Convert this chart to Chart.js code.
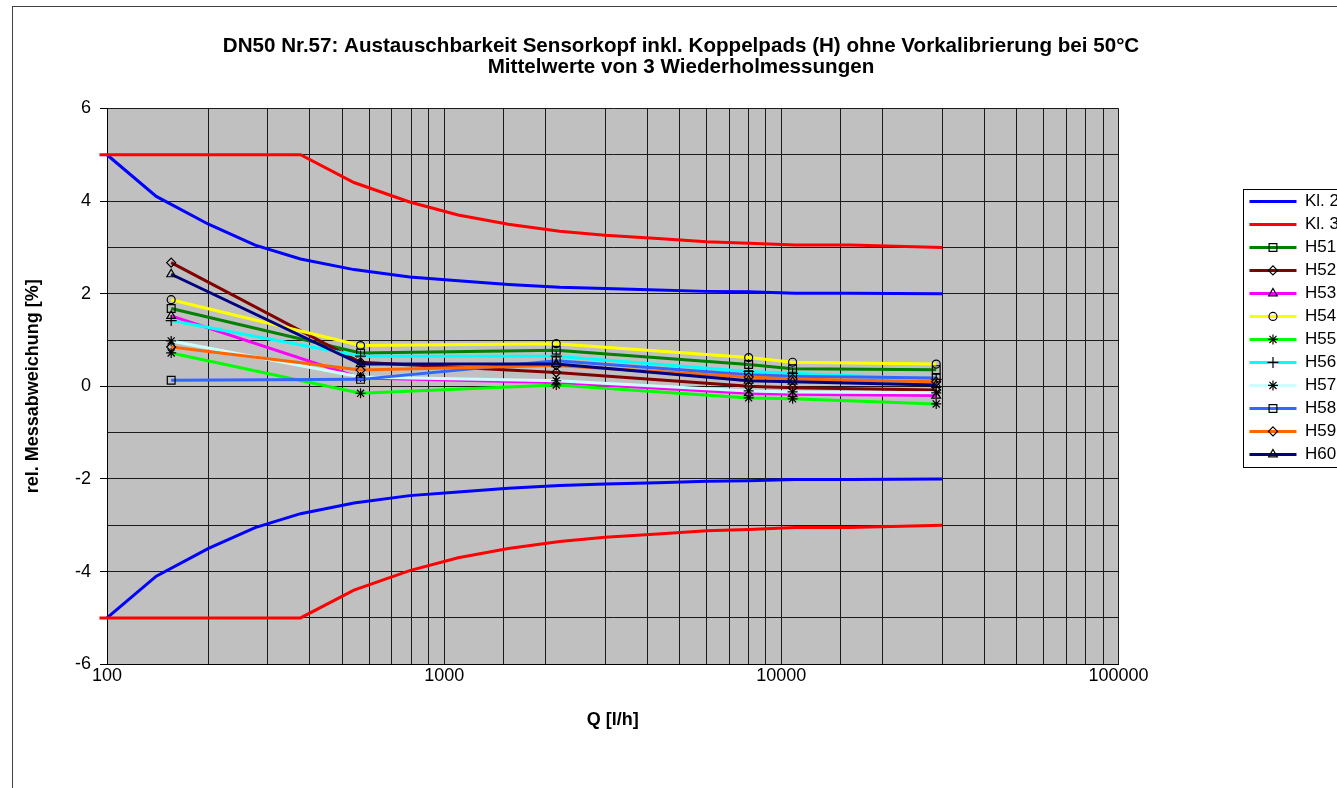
<!DOCTYPE html>
<html>
<head>
<meta charset="utf-8">
<script src="https://cdn.jsdelivr.net/npm/chart.js"></script>
<style>
  html, body { margin: 0; padding: 0; background: #fff; overflow: hidden; }
  #frame { position: absolute; left: 12px; top: 6px; width: 1336px; height: 800px; border: 1px solid #404040; }
  canvas { display: block; }
</style>
</head>
<body>
<div id="frame"><canvas id="chart" width="1336" height="782"></canvas></div>
<script>
// Fehlergrenzen (Klasse 2 / Klasse 3)
const qKl2 = [100, 140, 200, 275, 375, 540, 790, 1100, 1550, 2200, 3000, 4300, 6000, 8000, 11000, 16000, 30000];
const kl2Oben = [5, 4.1, 3.5, 3.05, 2.75, 2.52, 2.36, 2.28, 2.2, 2.14, 2.11, 2.08, 2.05, 2.04, 2.01, 2.01, 2.0];
const kl2Unten = [-5, -4.1, -3.5, -3.05, -2.75, -2.52, -2.36, -2.28, -2.2, -2.14, -2.11, -2.08, -2.05, -2.04, -2.01, -2.01, -2.0];
const qKl3 = [95, 140, 200, 275, 375, 540, 790, 1100, 1550, 2200, 3000, 4300, 6000, 8000, 11000, 16000, 30000];
const kl3Oben = [5, 5, 5, 5, 5, 4.4, 3.98, 3.7, 3.5, 3.35, 3.26, 3.19, 3.12, 3.09, 3.05, 3.05, 3.0];
const kl3Unten = [-5, -5, -5, -5, -5, -4.4, -3.98, -3.7, -3.5, -3.35, -3.26, -3.19, -3.12, -3.09, -3.05, -3.05, -3.0];

// Messpunkte (Mittelwerte)
const qMess = [155, 565, 2150, 8000, 10800, 28800];
const h51 = [1.68, 0.72, 0.78, 0.47, 0.38, 0.36];
const h52 = [2.67, 0.52, 0.3, 0.0, -0.03, -0.08];
const h53 = [1.52, 0.18, 0.08, -0.15, -0.17, -0.2];
const h54 = [1.87, 0.88, 0.92, 0.62, 0.52, 0.48];
const h55 = [0.72, -0.15, 0.03, -0.25, -0.27, -0.38];
const h56 = [1.42, 0.65, 0.65, 0.32, 0.28, 0.15];
const h57 = [0.98, 0.2, 0.12, -0.1, -0.12, -0.14];
const h58 = [0.13, 0.15, 0.55, 0.25, 0.22, 0.18];
const h59 = [0.85, 0.35, 0.45, 0.2, 0.16, 0.1];
const h60 = [2.42, 0.48, 0.48, 0.12, 0.1, 0.03];

const hNamen = ['H51', 'H52', 'H53', 'H54', 'H55', 'H56', 'H57', 'H58', 'H59', 'H60'];
const hWerte = [h51, h52, h53, h54, h55, h56, h57, h58, h59, h60];
const hFarben = ['#008000', '#800000', '#FF00FF', '#FFFF00', '#00FF00', '#00FFFF', '#CCFFFF', '#3366FF', '#FF6600', '#000080'];
const hMarker = ['rect', 'rectRot', 'triangle', 'circle', 'star', 'cross', 'star', 'rect', 'rectRot', 'triangle'];
const hRadius = [5.5, 4.5, 5, 4, 5, 5.5, 5, 5.5, 4.5, 5];

const xTicks = [100, 1000, 10000, 100000];

const titel = [
  'DN50 Nr.57: Austauschbarkeit Sensorkopf inkl. Koppelpads (H) ohne Vorkalibrierung bei 50°C',
  'Mittelwerte von 3 Wiederholmessungen'
];

Chart.defaults.font.family = "'Liberation Sans', Arial, sans-serif";
Chart.defaults.color = '#000';

function toPoints(qs, ys) {
  return qs.map((q, i) => ({ x: q, y: ys[i] }));
}

const limitSets = [
  { label: 'Kl. 2', q: qKl2, y: kl2Oben, color: '#0000FF' },
  { label: 'Kl. 3', q: qKl3, y: kl3Oben, color: '#FF0000' },
  { label: 'Kl. 2 unten', q: qKl2, y: kl2Unten, color: '#0000FF', noLegend: true },
  { label: 'Kl. 3 unten', q: qKl3, y: kl3Unten, color: '#FF0000', noLegend: true }
];

const datasets = [];
limitSets.forEach((l) => {
  datasets.push({
    label: l.label,
    data: toPoints(l.q, l.y),
    borderColor: l.color,
    backgroundColor: l.color,
    borderWidth: 3,
    pointRadius: 0,
    tension: 0,
    clip: false,
    noLegend: !!l.noLegend
  });
});
hNamen.forEach((name, i) => {
  datasets.push({
    label: name,
    data: toPoints(qMess, hWerte[i]),
    borderColor: hFarben[i],
    backgroundColor: hFarben[i],
    borderWidth: 3,
    tension: 0,
    pointStyle: hMarker[i],
    pointRadius: hRadius[i],
    pointBorderWidth: 1.2,
    pointBorderColor: '#000',
    pointBackgroundColor: 'rgba(0,0,0,0)'
  });
});
// later series on top, like the original
datasets.forEach((d, i) => { d.order = datasets.length - i; });

const plotBg = {
  id: 'plotBg',
  beforeDraw(chart) {
    const { ctx, chartArea: a } = chart;
    ctx.save();
    ctx.fillStyle = '#fff';
    ctx.fillRect(0, 0, chart.width, chart.height);
    ctx.fillStyle = '#C0C0C0';
    ctx.fillRect(a.left, a.top, a.right - a.left, a.bottom - a.top);
    ctx.restore();
  }
};

const legendFrame = {
  id: 'legendFrame',
  afterDraw(chart) {
    const lg = chart.legend;
    if (!lg || !lg.legendHitBoxes || !lg.legendHitBoxes.length) return;
    const boxes = lg.legendHitBoxes;
    const last = boxes[boxes.length - 1];
    const ctx = chart.ctx;
    const top = boxes[0].top - 4;
    const bottom = last.top + last.height + 4;
    ctx.save();
    ctx.strokeStyle = '#000';
    ctx.lineWidth = 1;
    ctx.strokeRect(Math.round(lg.left) + 0.5, Math.round(top) + 0.5, chart.width, Math.round(bottom - top));
    const bw = lg.options.labels.boxWidth;
    boxes.forEach((hb, i) => {
      const ds = chart.data.datasets[lg.legendItems[i].datasetIndex];
      if (!ds.pointRadius || !Chart.helpers || !Chart.helpers.drawPoint) return;
      ctx.strokeStyle = '#000';
      ctx.fillStyle = 'rgba(0,0,0,0)';
      ctx.lineWidth = ds.pointBorderWidth;
      Chart.helpers.drawPoint(ctx, {
        pointStyle: ds.pointStyle,
        radius: ds.pointRadius,
        borderWidth: ds.pointBorderWidth,
        rotation: 0
      }, hb.left + bw / 2, hb.top + hb.height / 2);
    });
    ctx.restore();
  }
};

const ctx = document.getElementById('chart').getContext('2d');
new Chart(ctx, {
  type: 'line',
  data: { datasets: datasets },
  options: {
    responsive: false,
    animation: false,
    devicePixelRatio: 1,
    layout: { padding: { left: 0, right: 0, top: 0, bottom: 58 } },
    plugins: {
      tooltip: { enabled: false },
      title: {
        display: true,
        text: titel,
        color: '#000',
        font: { size: 20.6, weight: 'bold', lineHeight: 1.03 },
        padding: { top: 28.5, bottom: 30.5 }
      },
      legend: {
        position: 'right',
        align: 'start',
        fullSize: false,
        title: { display: true, text: '', font: { size: 10, lineHeight: 1.2 }, padding: { top: 66.5, bottom: 0 } },
        labels: {
          boxWidth: 47,
          boxHeight: 3,
          padding: 6,
          color: '#000',
          font: { size: 17 },
          filter: (item, data) => !data.datasets[item.datasetIndex].noLegend,
          sort: (a, b) => a.datasetIndex - b.datasetIndex,
          generateLabels: (chart) =>
            Chart.defaults.plugins.legend.labels.generateLabels(chart).map((l) => ({
              ...l,
              lineWidth: 0,
              fillStyle: chart.data.datasets[l.datasetIndex].borderColor
            }))
        }
      }
    },
    scales: {
      x: {
        type: 'logarithmic',
        min: 100,
        max: 100000,
        border: { display: true, color: '#000', width: 1 },
        grid: { color: '#1a1a1a', lineWidth: 1, drawTicks: false },
        ticks: {
          autoSkip: false,
          maxRotation: 0,
          padding: 1,
          font: { size: 18 },
          color: '#000',
          callback: (v) => (xTicks.includes(Math.round(v)) && Math.abs(v - Math.round(v)) < 1e-6 ? String(Math.round(v)) : '')
        },
        title: {
          display: true,
          text: 'Q [l/h]',
          color: '#000',
          font: { size: 18, weight: 'bold' },
          padding: { top: 21.6, bottom: 0 }
        }
      },
      y: {
        min: -6,
        max: 6,
        afterFit: (s) => { s.width = 94; },
        border: { display: true, color: '#000', width: 1 },
        grid: {
          color: '#1a1a1a',
          lineWidth: 1,
          tickLength: 7,
          tickColor: (c) => (c.tick && c.tick.value % 2 === 0 ? '#000' : 'rgba(0,0,0,0)')
        },
        ticks: {
          stepSize: 1,
          padding: 9,
          font: { size: 18 },
          color: '#000',
          callback: (v) => (v % 2 === 0 ? String(v) : '')
        },
        title: {
          display: true,
          text: 'rel. Messabweichung [%]',
          color: '#000',
          font: { size: 18, weight: 'bold' },
          padding: { top: 9, bottom: 0 }
        }
      },
      y2: {
        position: 'right',
        display: true,
        afterFit: (s) => { s.width = 125; },
        border: { display: false },
        grid: { display: false, drawTicks: false },
        ticks: { display: false }
      }
    }
  },
  plugins: [plotBg, legendFrame]
});
</script>
</body>
</html>
